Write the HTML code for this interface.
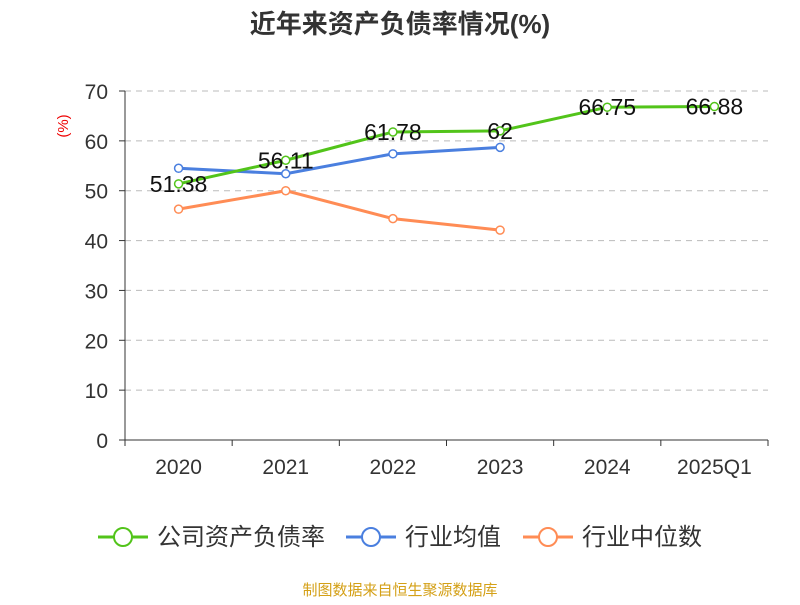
<!DOCTYPE html>
<html><head><meta charset="utf-8"><style>
body{margin:0;background:#fff;font-family:"Liberation Sans","Noto Sans CJK SC",sans-serif}
</style></head><body>
<svg id="c" width="800" height="600" xmlns="http://www.w3.org/2000/svg" font-family="Liberation Sans, Noto Sans CJK SC, sans-serif">
<text x="400" y="33" text-anchor="middle" font-size="26" font-weight="bold" fill="#333">近年来资产负债率情况(%)</text>
<text x="68" y="126" text-anchor="middle" font-size="15" fill="#e00" transform="rotate(-90 68 126)">(%)</text>
<g id="grid"></g><g id="axes"></g><g id="series"></g>
<g font-size="24" fill="#333">
<g><line x1="98" y1="537" x2="148" y2="537" stroke="#52c41a" stroke-width="3"/><circle cx="123" cy="537" r="9" fill="#fff" stroke="#52c41a" stroke-width="2"/><text x="157" y="545">公司资产负债率</text></g>
<g><line x1="346" y1="537" x2="396" y2="537" stroke="#4a7fdf" stroke-width="3"/><circle cx="371" cy="537" r="9" fill="#fff" stroke="#4a7fdf" stroke-width="2"/><text x="405" y="545">行业均值</text></g>
<g><line x1="523" y1="537" x2="573" y2="537" stroke="#ff8c55" stroke-width="3"/><circle cx="548" cy="537" r="9" fill="#fff" stroke="#ff8c55" stroke-width="2"/><text x="582" y="545">行业中位数</text></g>
</g>
<text x="400" y="595" text-anchor="middle" font-size="15" fill="#d4a017">制图数据来自恒生聚源数据库</text>
</svg>
<script>
const categories=["2020","2021","2022","2023","2024","2025Q1"];
const companyVals=[51.38,56.11,61.78,62,66.75,66.88];
const avgVals=[54.5,53.4,57.4,58.7];
const medianVals=[46.3,50,44.4,42.1];
const yTicks=[0,10,20,30,40,50,60,70];
const NS="http://www.w3.org/2000/svg";
const x0=125,x1=768,y0=440,y1=91,ymax=70;
const bw=(x1-x0)/categories.length;
const X=i=>x0+bw*(i+0.5);
const Y=v=>y0-(v/ymax)*(y0-y1);
function mk(p,t,a){const e=document.createElementNS(NS,t);for(const k in a)e.setAttribute(k,a[k]);document.getElementById(p).appendChild(e);return e;}
yTicks.forEach(v=>{
 if(v>0){const g=mk("grid","line",{x1:x0,x2:x1,y1:Y(v),y2:Y(v),stroke:"#bbb","stroke-dasharray":"6,5"});
 
 }
 const t=mk("axes","text",{x:x0-17,y:Y(v)+8,"text-anchor":"end","font-size":"21",fill:"#333"});t.textContent=v;
 
 
 mk("axes","line",{x1:x0-6,x2:x0,y1:Y(v),y2:Y(v),stroke:"#333"});
});
mk("axes","line",{x1:x0,x2:x0,y1:y1,y2:y0,stroke:"#333"});
mk("axes","line",{x1:x0,x2:x1,y1:y0,y2:y0,stroke:"#333"});
for(let i=0;i<=categories.length;i++)mk("axes","line",{x1:x0+bw*i,x2:x0+bw*i,y1:y0,y2:y0+6,stroke:"#333"});
categories.forEach((c,i)=>{const t=mk("axes","text",{x:X(i),y:474,"text-anchor":"middle","font-size":"21",fill:"#333"});t.textContent=c;
 
 });
function series(vals,color,name,labels){
 const l=mk("series","polyline",{points:vals.map((v,i)=>X(i)+","+Y(v)).join(" "),fill:"none",stroke:color,"stroke-width":3});
 
 
 vals.forEach((v,i)=>{const c=mk("series","circle",{cx:X(i),cy:Y(v),r:4,fill:"#fff",stroke:color,"stroke-width":1.5});
 
 
 if(labels){const t=mk("series","text",{x:X(i),y:Y(v)+8,"text-anchor":"middle","font-size":"23",fill:"#111"});t.textContent=v;
 
 }});
}
series(medianVals,"#ff8c55","industry-median",false);
series(avgVals,"#4a7fdf","industry-avg",false);
series(companyVals,"#52c41a","company",true);
</script>
</body></html>
